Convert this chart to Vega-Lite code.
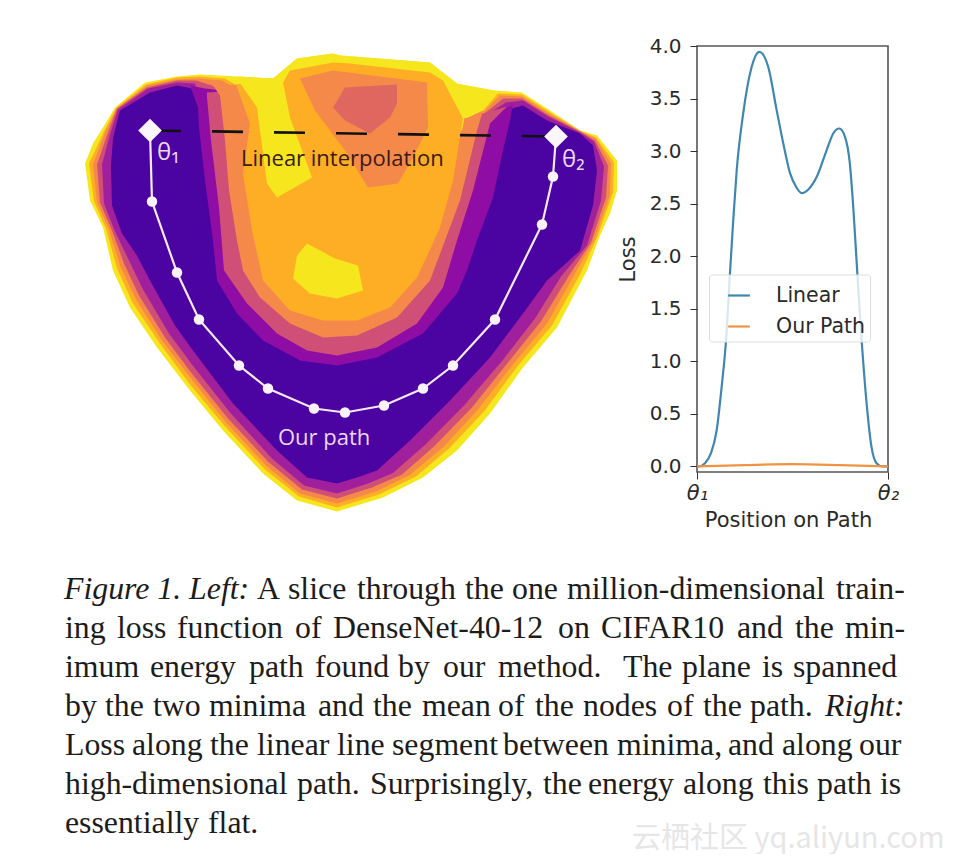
{
"$schema":"https://vega.github.io/schema/vega-lite/v6.json",
"background":"white",
"padding":{"left":60,"top":35,"right":0,"bottom":0},
"spacing":43,
"config":{"view":{"stroke":null}},
"vconcat":[
{"bounds":"flush","spacing":57,"resolve":{"scale":{"color":"independent"},"legend":{"color":"independent"}},"hconcat":[
{"width":580,"height":480,
"projection":{"type":"identity","scale":1,"translate":[-60,-45.5]},
"layer":[
{"data":{"values":[
{"type":"Feature","properties":{"band":"yellow"},"geometry":{"type":"Polygon","coordinates":[[[85,163],[93,143],[103,127],[115,107],[145,82],[177,76],[200,74],[238,76],[273,78],[297,58],[333,53],[340,55],[430,62],[457,83],[495,90],[522,92],[550,110],[580,130],[597,135],[617,160],[617,190],[610,213],[600,235],[587,270],[557,327],[523,367],[490,413],[457,450],[423,477],[383,497],[337,511],[297,500],[263,473],[223,430],[190,390],[157,347],[130,307],[113,270],[103,227],[90,200],[85,163]]]}},
{"type":"Feature","properties":{"band":"amber"},"geometry":{"type":"Polygon","coordinates":[[[89,163],[105,129],[116,107.5],[146,84],[177,77],[199,76],[225,78],[235,84],[205,115],[470,125],[498,93],[522,94],[550,112],[580,130],[596,137],[614,162],[613,192],[597,237],[581,272],[552,325],[518,365],[484,411],[449,448],[416,476],[379,494],[337,507],[299,496],[265,469],[225,426],[190,384],[160,343],[133,303],[117,268],[106,228],[94,201],[89,163]]]}},
{"type":"Feature","properties":{"band":"orange"},"geometry":{"type":"Polygon","coordinates":[[[93,164],[106,130],[117,108],[147,85],[177,79],[198,78],[222,80],[232,86],[205,115],[470,125],[500,95],[522,96],[549,113],[580,131],[596,138],[611,163],[610,194],[594,240],[575,273],[547,323],[513,364],[478,409],[443,447],[409,475],[376,491],[337,503],[300,493],[267,466],[226,422],[191,378],[162,340],[136,299],[120,265],[109,229],[97,201.5],[93,164]]]}},
{"type":"Feature","properties":{"band":"coral"},"geometry":{"type":"Polygon","coordinates":[[[97,164],[108,132],[117,108],[147,87],[177,80],[196,80],[212,85],[225,92],[205,115],[470,125],[503,98],[522,98],[549,115],[580,131],[595,140],[608,165],[606,197],[591,242],[569,275],[541,321],[508,362],[472,407],[435,445],[402,474],[372,487],[337,498],[302,489],[269,462],[228,418],[191,372],[165,337],[139,295],[124,263],[112,230],[100,202],[97,164]]]}},
{"type":"Feature","properties":{"band":"magenta"},"geometry":{"type":"Polygon","coordinates":[[[102,164],[110,134],[118,109],[148,88],[177,82],[195,83],[205,115],[470,125],[506,102],[523,100],[548,116],[580,132],[594,141],[604,166],[601,200],[587,245],[561,276],[535,318],[502,360.5],[464,405],[426,443.5],[393,472.5],[368,483],[337,493],[304,485],[272,458],[230,412],[192,364],[169,333],[143,289],[129,260],[115,231],[104,203],[102,164]]]}},
{"type":"Feature","properties":{"band":"indigo"},"geometry":{"type":"Polygon","coordinates":[[[111,165],[113,138],[120,110],[150,92],[177,85],[192,88],[205,115],[470,125],[512,108],[523,105],[547,120],[580,133],[593,145],[597,170],[593,205],[580,250],[547,280],[523,313],[490,357],[450,400],[410,440],[377,470],[360,476],[337,483],[307,477],[277,450],[233,403],[193,350],[175,325],[150,280],[137,255],[122,233],[112,205],[111,165]]]}},
{"type":"Feature","properties":{"band":"purple"},"geometry":{"type":"Polygon","coordinates":[[[190,85],[205,88],[240,92],[470,120],[497,112],[513,104],[510,120],[503,150],[493,197],[477,240],[467,270],[457,293],[423,333],[377,357],[337,365],[300,360],[263,340],[237,313],[217,280],[213,240],[205,180],[199,127],[198,107],[190,85]]]}},
{"type":"Feature","properties":{"band":"coral"},"geometry":{"type":"Polygon","coordinates":[[[207,92],[240,90],[466,118],[490,111],[507,106],[490,123],[473,190],[457,240],[443,287],[417,323],[377,347],[337,355],[307,350],[277,333],[247,303],[224,270],[219,207],[211,140],[207,97],[207,92]]]}},
{"type":"Feature","properties":{"band":"orange"},"geometry":{"type":"Polygon","coordinates":[[[213,85],[240,84],[466,118],[483,110],[477,130],[460,200],[430,280],[397,317],[357,335],[323,337],[290,323],[260,297],[243,270],[237,240],[229,190],[225,140],[220,95],[213,85]]]}},
{"type":"Feature","properties":{"band":"yellow"},"geometry":{"type":"Polygon","coordinates":[[[238,76],[273,78],[297,58],[333,53],[340,55],[430,62],[457,83],[466,110],[462,130],[255,130],[238,76]]]}},
{"type":"Feature","properties":{"band":"amber"},"geometry":{"type":"Polygon","coordinates":[[[236,84],[283,82],[290,70],[333,62],[350,63],[430,72],[443,80],[463,118],[453,180],[440,227],[417,277],[390,307],[357,320],[323,320],[290,310],[263,280],[252,230],[243,173],[250,123],[236,84]]]}},
{"type":"Feature","properties":{"band":"yellow"},"geometry":{"type":"Polygon","coordinates":[[[237,78],[273,78],[283,82],[290,117],[312,177],[277,197],[267,183],[257,107],[237,78]]]}},
{"type":"Feature","properties":{"band":"yellow"},"geometry":{"type":"Polygon","coordinates":[[[307,243],[335,258],[358,265],[363,290],[337,298],[310,293],[293,278],[297,255],[307,243]]]}},
{"type":"Feature","properties":{"band":"orange"},"geometry":{"type":"Polygon","coordinates":[[[300,78],[333,70],[427,82],[428,127],[413,157],[398,183],[368,187],[345,150],[315,110],[300,78]]]}},
{"type":"Feature","properties":{"band":"peak"},"geometry":{"type":"Polygon","coordinates":[[[333,107],[345,87],[397,84],[397,103],[390,117],[370,133],[345,120],[333,107]]]}}
]},
"mark":{"type":"geoshape","strokeWidth":0},
"encoding":{"color":{"field":"properties.band","type":"nominal","legend":null,"scale":{"domain":["yellow","amber","orange","coral","magenta","purple","indigo","peak"],"range":["#f5e61e","#fdae24","#f4894a","#cf4f76","#a01f9c","#8f0da4","#4b03a1","#e0675f"]}}}},
{"data":{"values":[{"u":150,"v":130,"i":0},{"u":556,"v":136,"i":1}]},
"mark":{"type":"line","stroke":"#111","strokeWidth":2.6,"strokeDash":[31,31]},
"encoding":{"longitude":{"field":"u","type":"quantitative"},"latitude":{"field":"v","type":"quantitative"},"order":{"field":"i"}}},
{"data":{"values":[{"u":150,"v":130,"i":0},{"u":152,"v":201,"i":1},{"u":177,"v":272,"i":2},{"u":199,"v":319,"i":3},{"u":239,"v":365,"i":4},{"u":268,"v":388,"i":5},{"u":314,"v":408,"i":6},{"u":345,"v":412,"i":7},{"u":384,"v":405,"i":8},{"u":423,"v":388,"i":9},{"u":453,"v":365,"i":10},{"u":495,"v":319,"i":11},{"u":542,"v":224,"i":12},{"u":553,"v":176,"i":13},{"u":556,"v":136,"i":14}]},
"layer":[
{"mark":{"type":"line","stroke":"#f6e9f8","strokeWidth":2.2},
"encoding":{"longitude":{"field":"u","type":"quantitative"},"latitude":{"field":"v","type":"quantitative"},"order":{"field":"i"}}},
{"transform":[{"filter":"datum.i>0 && datum.i<14"}],"mark":{"type":"point","filled":true,"shape":"circle","fill":"#faf2fb","size":110,"opacity":1},
"encoding":{"longitude":{"field":"u","type":"quantitative"},"latitude":{"field":"v","type":"quantitative"}}},
{"transform":[{"filter":"datum.i==0 || datum.i==14"}],"mark":{"type":"point","filled":true,"shape":"diamond","fill":"#fbf5fc","size":560,"opacity":1},
"encoding":{"longitude":{"field":"u","type":"quantitative"},"latitude":{"field":"v","type":"quantitative"}}}
]},
{"data":{"values":[{"u":241,"v":165,"t":"Linear interpolation"}]},
"mark":{"type":"text","align":"left","baseline":"alphabetic","font":"Open Sans","fontSize":22,"fill":"#3a1a14"},
"encoding":{"longitude":{"field":"u","type":"quantitative"},"latitude":{"field":"v","type":"quantitative"},"text":{"field":"t"}}},
{"data":{"values":[{"u":278,"v":444,"t":"Our path"}]},
"mark":{"type":"text","align":"left","baseline":"alphabetic","font":"Open Sans","fontSize":22,"fill":"#ecd8f5"},
"encoding":{"longitude":{"field":"u","type":"quantitative"},"latitude":{"field":"v","type":"quantitative"},"text":{"field":"t"}}},
{"data":{"values":[{"u":157,"v":159,"t":"θ₁"},{"u":562,"v":166,"t":"θ₂"}]},
"mark":{"type":"text","align":"left","baseline":"alphabetic","font":"Open Sans","fontSize":24,"fill":"#ecd8f5"},
"encoding":{"longitude":{"field":"u","type":"quantitative"},"latitude":{"field":"v","type":"quantitative"},"text":{"field":"t"}}}
]},
{"width":191,"height":426,
"view":{"stroke":"#555","strokeWidth":1.6},
"data":{"values":[
{"t":0,"loss":0,"s":"Linear"},{"t":0.01,"loss":0,"s":"Linear"},{"t":0.042,"loss":0.03,"s":"Linear"},{"t":0.072,"loss":0.12,"s":"Linear"},{"t":0.103,"loss":0.343,"s":"Linear"},{"t":0.129,"loss":0.755,"s":"Linear"},{"t":0.152,"loss":1.2,"s":"Linear"},{"t":0.173,"loss":1.85,"s":"Linear"},{"t":0.19,"loss":2.35,"s":"Linear"},{"t":0.208,"loss":2.82,"s":"Linear"},{"t":0.242,"loss":3.36,"s":"Linear"},{"t":0.286,"loss":3.8,"s":"Linear"},{"t":0.326,"loss":3.945,"s":"Linear"},{"t":0.373,"loss":3.8,"s":"Linear"},{"t":0.417,"loss":3.39,"s":"Linear"},{"t":0.452,"loss":3.07,"s":"Linear"},{"t":0.487,"loss":2.79,"s":"Linear"},{"t":0.522,"loss":2.65,"s":"Linear"},{"t":0.548,"loss":2.6,"s":"Linear"},{"t":0.583,"loss":2.635,"s":"Linear"},{"t":0.627,"loss":2.755,"s":"Linear"},{"t":0.679,"loss":3.01,"s":"Linear"},{"t":0.714,"loss":3.17,"s":"Linear"},{"t":0.745,"loss":3.215,"s":"Linear"},{"t":0.775,"loss":3.135,"s":"Linear"},{"t":0.8,"loss":2.885,"s":"Linear"},{"t":0.818,"loss":2.47,"s":"Linear"},{"t":0.839,"loss":1.85,"s":"Linear"},{"t":0.862,"loss":1.2,"s":"Linear"},{"t":0.888,"loss":0.6,"s":"Linear"},{"t":0.914,"loss":0.18,"s":"Linear"},{"t":0.94,"loss":0.03,"s":"Linear"},{"t":0.97,"loss":0,"s":"Linear"},{"t":1,"loss":0,"s":"Linear"},
{"t":0,"loss":0,"s":"Our Path"},{"t":0.25,"loss":0.012,"s":"Our Path"},{"t":0.5,"loss":0.02,"s":"Our Path"},{"t":0.75,"loss":0.012,"s":"Our Path"},{"t":1,"loss":0,"s":"Our Path"}
]},
"mark":{"type":"line","interpolate":"monotone","strokeWidth":2.2,"clip":true},
"encoding":{
"x":{"field":"t","type":"quantitative","scale":{"domain":[0,1],"nice":false},
"axis":{"values":[0,1],"labelExpr":"datum.value==0?'θ₁':'θ₂'","title":"Position on Path","titleX":91,"grid":false,"domain":false,"tickSize":7,"tickColor":"#333","labelFont":"DejaVu Sans","labelFontSize":21,"labelFontStyle":"italic","labelColor":"#2a2a2a","labelPadding":3,"labelFlush":false,"titleFont":"DejaVu Sans","titleFontSize":21,"titleFontWeight":"normal","titleColor":"#2a2a2a","titlePadding":6}},
"y":{"field":"loss","type":"quantitative","scale":{"domain":[-0.054,4],"nice":false,"zero":false},
"axis":{"values":[0,0.5,1,1.5,2,2.5,3,3.5,4],"format":".1f","title":"Loss","grid":false,"domain":false,"tickSize":7,"tickColor":"#333","labelFont":"DejaVu Sans","labelFontSize":20,"labelColor":"#2a2a2a","labelPadding":9,"titleFont":"DejaVu Sans","titleFontSize":21,"titleFontWeight":"normal","titleColor":"#2a2a2a","titlePadding":11}},
"color":{"field":"s","type":"nominal","sort":["Linear","Our Path"],"scale":{"domain":["Linear","Our Path"],"range":["#3f87b0","#f09443"]},
"legend":{"title":null,"orient":"none","legendX":12,"legendY":228.5,"fillColor":"rgba(255,255,255,0.8)","strokeColor":"#dddddd","cornerRadius":3,"padding":4,"symbolType":"M-0.7,0L0.7,0","symbolSize":961,"symbolStrokeWidth":2.2,"symbolOffset":9,"labelFont":"DejaVu Sans","labelFontSize":20.5,"labelColor":"#2a2a2a","labelOffset":20,"rowPadding":3}}
}}
]},
{"width":895,"height":234,
"data":{"values":[
{"line":0,"pos":4,"text":"Figure 1. Left:","it":true},{"line":0,"pos":197,"text":"A"},{"line":0,"pos":228,"text":"slice"},{"line":0,"pos":297,"text":"through"},{"line":0,"pos":405,"text":"the"},{"line":0,"pos":452,"text":"one"},{"line":0,"pos":507,"text":"million-dimensional"},{"line":0,"pos":776,"text":"train-"},
{"line":1,"pos":5,"text":"ing"},{"line":1,"pos":57,"text":"loss"},{"line":1,"pos":117,"text":"function"},{"line":1,"pos":235,"text":"of"},{"line":1,"pos":273,"text":"DenseNet-40-12"},{"line":1,"pos":498,"text":"on"},{"line":1,"pos":541,"text":"CIFAR10"},{"line":1,"pos":677,"text":"and"},{"line":1,"pos":735,"text":"the"},{"line":1,"pos":785,"text":"min-"},
{"line":2,"pos":5,"text":"imum"},{"line":2,"pos":90,"text":"energy"},{"line":2,"pos":189,"text":"path"},{"line":2,"pos":255,"text":"found"},{"line":2,"pos":338,"text":"by"},{"line":2,"pos":383,"text":"our"},{"line":2,"pos":438,"text":"method."},{"line":2,"pos":563,"text":"The"},{"line":2,"pos":622,"text":"plane"},{"line":2,"pos":702,"text":"is"},{"line":2,"pos":733,"text":"spanned"},
{"line":3,"pos":5,"text":"by"},{"line":3,"pos":45,"text":"the"},{"line":3,"pos":93,"text":"two"},{"line":3,"pos":149,"text":"minima"},{"line":3,"pos":258,"text":"and"},{"line":3,"pos":313,"text":"the"},{"line":3,"pos":362,"text":"mean"},{"line":3,"pos":438,"text":"of"},{"line":3,"pos":475,"text":"the"},{"line":3,"pos":523,"text":"nodes"},{"line":3,"pos":607,"text":"of"},{"line":3,"pos":643,"text":"the"},{"line":3,"pos":690,"text":"path."},{"line":3,"pos":765,"text":"Right:","it":true},
{"line":4,"pos":5,"text":"Loss"},{"line":4,"pos":72,"text":"along"},{"line":4,"pos":150,"text":"the"},{"line":4,"pos":197,"text":"linear"},{"line":4,"pos":277,"text":"line"},{"line":4,"pos":332,"text":"segment"},{"line":4,"pos":443,"text":"between"},{"line":4,"pos":557,"text":"minima,"},{"line":4,"pos":668,"text":"and"},{"line":4,"pos":722,"text":"along"},{"line":4,"pos":799,"text":"our"},
{"line":5,"pos":5,"text":"high-dimensional"},{"line":5,"pos":237,"text":"path."},{"line":5,"pos":310,"text":"Surprisingly,"},{"line":5,"pos":483,"text":"the"},{"line":5,"pos":528,"text":"energy"},{"line":5,"pos":623,"text":"along"},{"line":5,"pos":703,"text":"this"},{"line":5,"pos":757,"text":"path"},{"line":5,"pos":820,"text":"is"},
{"line":6,"pos":5,"text":"essentially"},{"line":6,"pos":148,"text":"flat."}
]},
"encoding":{
"x":{"field":"pos","type":"quantitative","axis":null,"scale":{"domain":[0,895]}},
"y":{"field":"line","type":"quantitative","axis":null,"scale":{"domain":[0,6],"reverse":true,"nice":false,"zero":false}},
"text":{"field":"text"}
},
"layer":[
{"transform":[{"filter":"!datum.it"}],"mark":{"type":"text","align":"left","baseline":"alphabetic","font":"Liberation Serif","fontSize":31.8,"color":"#1c1c1c"}},
{"transform":[{"filter":"datum.it"}],"mark":{"type":"text","align":"left","baseline":"alphabetic","font":"Liberation Serif","fontStyle":"italic","fontSize":31.8,"color":"#1c1c1c"}},
{"data":{"values":[{"pos":572,"line":6.15,"text":"云栖社区 yq.aliyun.com"}]},"mark":{"type":"text","align":"left","baseline":"middle","font":"Noto Sans CJK SC","fontSize":29,"color":"#e6e6e6"}}
]}
]}
